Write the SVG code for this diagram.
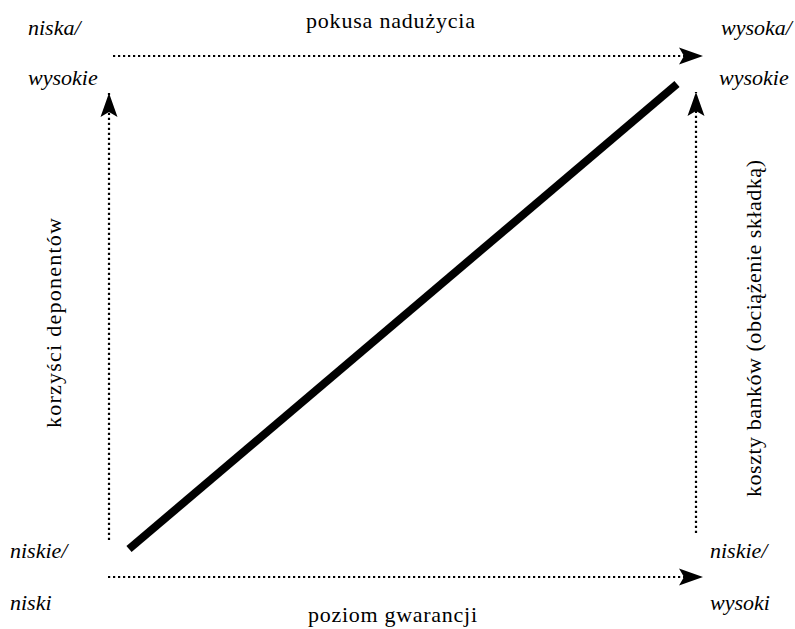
<svg xmlns="http://www.w3.org/2000/svg" width="795" height="629" viewBox="0 0 795 629">
<style>
  .t { font-family: 'Liberation Serif', 'Times New Roman', Times, serif; font-size: 22px; fill: #000; }
  .it { font-style: italic; }
  .dot { fill: none; stroke: #000; stroke-width: 2.2; stroke-dasharray: 2.2 2.8; }
  .diag { stroke: #000; stroke-width: 8; fill: none; }
</style>
<defs>
  <marker id="arr" markerUnits="userSpaceOnUse" viewBox="-25 -10 26 20" refX="0" refY="0" markerWidth="26" markerHeight="20" orient="auto">
    <path d="M0,0 L-24,-8.5 L-19,0 L-24,8.5 Z" fill="#000"/>
  </marker>
</defs>
<g id="connectors">
  <line class="dot" x1="113" y1="56" x2="703" y2="56" marker-end="url(#arr)"/>
  <line class="dot" x1="108" y1="577" x2="703" y2="577" marker-end="url(#arr)"/>
  <line class="dot" x1="109" y1="540" x2="109" y2="93" marker-end="url(#arr)"/>
  <line class="dot" x1="696" y1="533" x2="696" y2="92" marker-end="url(#arr)"/>
  <line class="diag" x1="129" y1="549" x2="677" y2="84"/>
</g>
<g font-family="Liberation Serif, serif" font-size="22">
<g id="label-top"><text class="t" x="306" y="28" textLength="169" lengthAdjust="spacing">pokusa nadużycia</text></g>
<g id="label-bottom"><text class="t" x="308" y="622" textLength="169" lengthAdjust="spacing">poziom gwarancji</text></g>
<g id="label-left"><text class="t" transform="translate(61,428) rotate(-90)" textLength="210" lengthAdjust="spacing">korzyści deponentów</text></g>
<g id="label-right"><text class="t" transform="translate(761,497) rotate(-90)" textLength="337" lengthAdjust="spacing">koszty banków (obciążenie składką)</text></g>
<g id="corner-tl"><text class="t it" x="28" y="35">niska/</text><text class="t it" x="28" y="85">wysokie</text></g>
<g id="corner-tr"><text class="t it" x="721" y="35">wysoka/</text><text class="t it" x="719" y="85">wysokie</text></g>
<g id="corner-bl"><text class="t it" x="10" y="558">niskie/</text><text class="t it" x="10" y="610">niski</text></g>
<g id="corner-br"><text class="t it" x="710" y="558">niskie/</text><text class="t it" x="710" y="610">wysoki</text></g>
</g>
</svg>
